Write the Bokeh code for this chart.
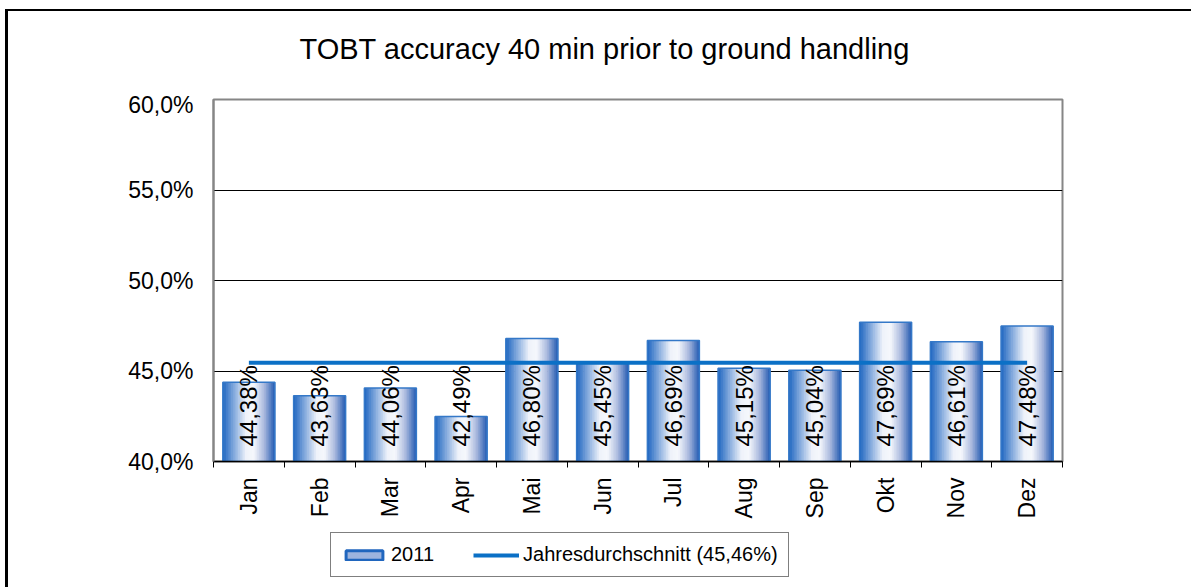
import numpy as np
from bokeh.plotting import figure
from bokeh.layouts import column
from bokeh.models import (ColumnDataSource, FixedTicker, Legend, LegendItem,
                          Range1d, Label)
from bokeh.embed import file_html
from bokeh.resources import INLINE
from bokeh.core.properties import value

# ---------------- data ----------------
months = ["Jan", "Feb", "Mar", "Apr", "Mai", "Jun",
          "Jul", "Aug", "Sep", "Okt", "Nov", "Dez"]
accuracy = [44.38, 43.63, 44.06, 42.49, 46.80, 45.45,
            46.69, 45.15, 45.04, 47.69, 46.61, 47.48]
value_labels = ["44,38%", "43,63%", "44,06%", "42,49%", "46,80%", "45,45%",
                "46,69%", "45,15%", "45,04%", "47,69%", "46,61%", "47,48%"]
annual_average = 45.46
y_ticks = [40, 45, 50, 55, 60]
y_tick_labels = ["40,0%", "45,0%", "50,0%", "55,0%", "60,0%"]
series_name = "2011"
average_name = "Jahresdurchschnitt (45,46%)"
title_text = "TOBT accuracy 40 min prior to ground handling"

# ---------------- style ----------------
FONT = "Liberation Sans"
BAR_W = 0.735
N_STRIPS = 30
STOPS = [(0.0, (28, 100, 192)), (0.45, (238, 242, 250)), (0.6, (246, 248, 252)),
         (0.8, (170, 185, 222)), (1.0, (38, 92, 178))]
LINE_BLUE = "#0B70C6"
BAR_EDGE = "#3478C8"


def grad_color(t):
    for (t0, c0), (t1, c1) in zip(STOPS[:-1], STOPS[1:]):
        if t0 <= t <= t1:
            f = (t - t0) / (t1 - t0)
            c = [int(round(a + (b - a) * f)) for a, b in zip(c0, c1)]
            return "#%02x%02x%02x" % tuple(c)
    return "#%02x%02x%02x" % STOPS[-1][1]


def blank_fig(h):
    f = figure(width=1183, height=h, output_backend="svg", toolbar_location=None,
               x_axis_type=None, y_axis_type=None, min_border=0,
               x_range=Range1d(0, 1), y_range=Range1d(0, 1),
               outline_line_color=None, background_fill_color="white",
               border_fill_color="white")
    f.xgrid.grid_line_color = None
    f.ygrid.grid_line_color = None
    return f


n = len(months)
centers = [i + 0.5 for i in range(n)]

# ---------------- title strip ----------------
tf = blank_fig(80)
tf.add_layout(Label(x=86, y=43, x_units="screen", y_units="screen",
                    text=title_text, text_font=FONT, text_font_size="29px",
                    text_color="black", text_align="left",
                    text_baseline="alphabetic"))

# ---------------- main chart ----------------
p = figure(width=1183, height=435, output_backend="svg", toolbar_location=None,
           x_range=Range1d(0, n), y_range=Range1d(y_ticks[0], y_ticks[-1]),
           min_border_left=205, min_border_right=129, min_border_top=8,
           min_border_bottom=65, background_fill_color="white",
           border_fill_color="white")

# gradient bars as strips
sx, stop, sc = [], [], []
for k in range(N_STRIPS):
    t = (k + 0.5) / N_STRIPS
    col = grad_color(t)
    for i in range(n):
        sx.append(centers[i] - BAR_W / 2 + t * BAR_W)
        stop.append(accuracy[i])
        sc.append(col)
strip_src = ColumnDataSource(dict(x=sx, top=stop, color=sc))
p.vbar(x="x", top="top", bottom=y_ticks[0], width=BAR_W / N_STRIPS * 1.4,
       source=strip_src, fill_color="color", line_color=None)
# bar outlines
p.vbar(x=centers, top=accuracy, bottom=y_ticks[0], width=BAR_W,
       fill_color=None, line_color=BAR_EDGE, line_width=1.5)

# average line
p.line(x=[centers[0], centers[-1]], y=[annual_average, annual_average],
       line_color=LINE_BLUE, line_width=4)

# value labels
p.text(x=centers, y=[y_ticks[0]] * n, text=value_labels, angle=np.pi / 2,
       y_offset=-15, text_align="left", text_baseline="middle",
       text_font=value(FONT), text_font_size="24px", text_color="black")

# axes
p.xaxis.ticker = FixedTicker(ticks=centers, minor_ticks=list(range(n + 1)))
p.xaxis.major_label_overrides = {c: m for c, m in zip(centers, months)}
p.xaxis.major_label_orientation = np.pi / 2
p.xaxis.major_tick_out = 0
p.xaxis.major_tick_in = 0
p.xaxis.minor_tick_out = 6
p.xaxis.minor_tick_in = 0
p.xaxis.minor_tick_line_color = "black"
p.xaxis.axis_line_color = "black"
p.xaxis.axis_line_width = 1.5
p.xaxis.major_label_standoff = 10
p.xaxis.major_label_text_font = FONT
p.xaxis.major_label_text_font_size = "23px"
p.xaxis.major_label_text_color = "black"

p.yaxis.ticker = FixedTicker(ticks=y_ticks)
p.yaxis.major_label_overrides = {t: l for t, l in zip(y_ticks, y_tick_labels)}
p.yaxis.major_tick_out = 0
p.yaxis.major_tick_in = 0
p.yaxis.minor_tick_out = 0
p.yaxis.minor_tick_in = 0
p.yaxis.axis_line_color = "#868686"
p.yaxis.axis_line_width = 2
p.yaxis.major_label_standoff = 20
p.yaxis.major_label_text_font = FONT
p.yaxis.major_label_text_font_size = "23px"
p.yaxis.major_label_text_color = "black"

p.xgrid.grid_line_color = None
p.ygrid.ticker = FixedTicker(ticks=y_ticks)
p.ygrid.grid_line_color = "black"
p.ygrid.grid_line_width = 1

p.outline_line_color = "#868686"
p.outline_line_width = 2

# ---------------- legend strip ----------------
# legend-only renderers: NaN rows draw nothing, but give the legend its icons
nan = float("nan")
lg = blank_fig(61)
leg_bar = lg.vbar(x=[nan], top=[nan], bottom=[nan], width=0.5,
                  fill_color="#9DB4DE", line_color="#2066BE", line_width=3)
leg_line = lg.line(x=[nan, nan], y=[nan, nan], line_color=LINE_BLUE,
                   line_width=4)

legend = Legend(items=[LegendItem(label=series_name, renderers=[leg_bar]),
                       LegendItem(label=average_name, renderers=[leg_line])],
                orientation="horizontal", location=(117, 10),
                label_text_font=FONT, label_text_font_size="20px",
                label_text_color="black",
                glyph_width=46, glyph_height=12, label_standoff=4, spacing=39,
                padding=10, margin=0, border_line_color="black",
                border_line_width=1, background_fill_alpha=1.0)
lg.add_layout(legend, "center")

layout = column(tf, p, lg, spacing=0,
                styles={"margin-left": "5px", "margin-top": "9px",
                        "border-left": "3px solid black",
                        "border-top": "2px solid black"})

open("out.html", "w").write(file_html(layout, INLINE))
